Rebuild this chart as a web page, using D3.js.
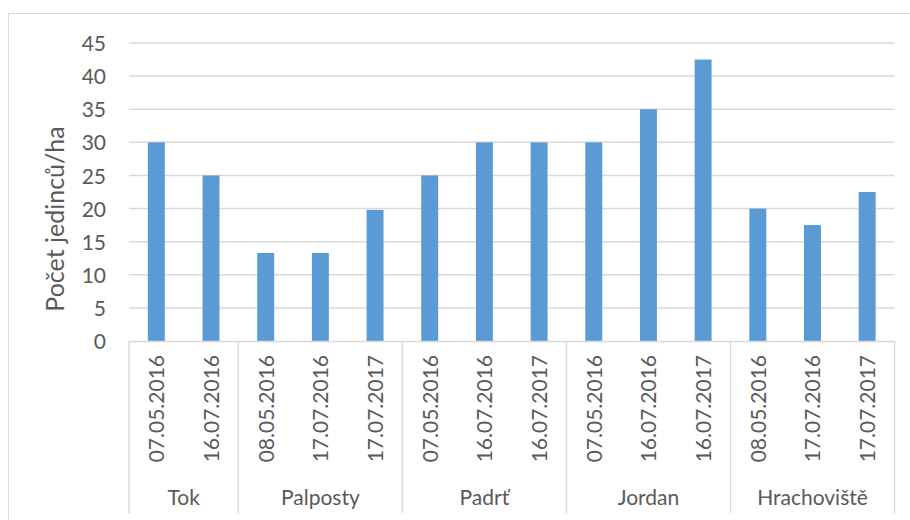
<!DOCTYPE html>
<html>
<head>
<meta charset="utf-8">
<script src="https://cdn.jsdelivr.net/npm/d3@7"></script>
<style>
  body { margin: 0; background: #fff; }
  text { font-family: Lato, "Open Sans", sans-serif; fill: #595959; }
</style>
</head>
<body>
<div id="chart"></div>
<script>
const sites = ['Tok', 'Palposty', 'Padrť', 'Jordan', 'Hrachoviště'];
const dates = [
  ['07.05.2016', '16.07.2016'],
  ['08.05.2016', '17.07.2016', '17.07.2017'],
  ['07.05.2016', '16.07.2016', '16.07.2017'],
  ['07.05.2016', '16.07.2016', '16.07.2017'],
  ['08.05.2016', '17.07.2016', '17.07.2017']
];
const counts = [
  [30, 25],
  [13.3, 13.3, 19.8],
  [25, 30, 30],
  [30, 35, 42.5],
  [20, 17.5, 22.5]
];
const yTicks = [0, 5, 10, 15, 20, 25, 30, 35, 40, 45];
const yTitle = 'Počet jedinců/ha';

const width = 910;
const height = 520;
const plotLeft = 129;
const plotRight = 894.5;
const plotTop = 43;
const plotBottom = 341;
const gridColor = '#d9d9d9';
const barColor = '#5b9bd5';
const fontSize = 21;

// flatten the two-level categories into one row per bar
const rows = [];
sites.forEach(function (site, i) {
  dates[i].forEach(function (d, j) {
    rows.push({site: site, date: d, value: counts[i][j], key: site + '|' + d + '|' + j});
  });
});

const svg = d3.select('#chart').append('svg')
  .attr('width', width)
  .attr('height', height);

svg.append('rect')
  .attr('x', 8.5).attr('y', 13.5)
  .attr('width', width).attr('height', height)
  .attr('fill', 'none')
  .attr('stroke', gridColor);

const x = d3.scaleBand()
  .domain(rows.map(r => r.key))
  .range([plotLeft, plotRight])
  .paddingInner(0.69)
  .paddingOuter(0.345);

const y = d3.scaleLinear()
  .domain([0, 45])
  .range([plotBottom, plotTop]);

// gridlines
svg.append('g')
  .selectAll('line')
  .data(yTicks.filter(t => t > 0))
  .enter().append('line')
    .attr('x1', plotLeft).attr('x2', plotRight)
    .attr('y1', d => y(d)).attr('y2', d => y(d))
    .attr('stroke', gridColor)
    .attr('stroke-width', 1.5);

const yAxis = d3.axisLeft(y).tickValues(yTicks).tickSize(0).tickPadding(0);
svg.append('g')
  .attr('transform', 'translate(106,0)')
  .call(yAxis)
  .call(g => g.select('.domain').remove())
  .selectAll('text')
    .attr('font-size', fontSize)
    .attr('dy', '0.36em');

svg.append('text')
  .attr('transform', `translate(64, 219) rotate(-90)`)
  .attr('text-anchor', 'middle')
  .attr('font-size', 25)
  .text(yTitle);

// bars
svg.append('g')
  .selectAll('rect')
  .data(rows)
  .enter().append('rect')
    .attr('x', d => x(d.key))
    .attr('width', x.bandwidth())
    .attr('y', d => y(d.value))
    .attr('height', d => y(0) - y(d.value))
    .attr('fill', barColor);

// category axis
svg.append('line')
  .attr('x1', plotLeft).attr('x2', plotRight)
  .attr('y1', plotBottom + 0.5).attr('y2', plotBottom + 0.5)
  .attr('stroke', gridColor)
  .attr('stroke-width', 1.5);

const step = x.step();
const groupBounds = [];
let idx = 0;
sites.forEach(function (site, i) {
  const start = plotLeft + idx * step;
  idx += dates[i].length;
  groupBounds.push({site: site, start: start, end: plotLeft + idx * step});
});

svg.append('g')
  .selectAll('line')
  .data([plotLeft].concat(groupBounds.map(g => g.end)))
  .enter().append('line')
    .attr('x1', d => d).attr('x2', d => d)
    .attr('y1', plotBottom).attr('y2', 513)
    .attr('stroke', gridColor)
    .attr('stroke-width', 1.5);

svg.append('g')
  .selectAll('text')
  .data(rows)
  .enter().append('text')
    .attr('transform', d => `translate(${x(d.key) + x.bandwidth() / 2 + 8}, 355) rotate(-90)`)
    .attr('text-anchor', 'end')
    .attr('font-size', fontSize)
    .text(d => d.date);

svg.append('g')
  .selectAll('text')
  .data(groupBounds)
  .enter().append('text')
    .attr('x', d => (d.start + d.end) / 2)
    .attr('y', 505)
    .attr('text-anchor', 'middle')
    .attr('font-size', fontSize)
    .text(d => d.site);
</script>
</body>
</html>
